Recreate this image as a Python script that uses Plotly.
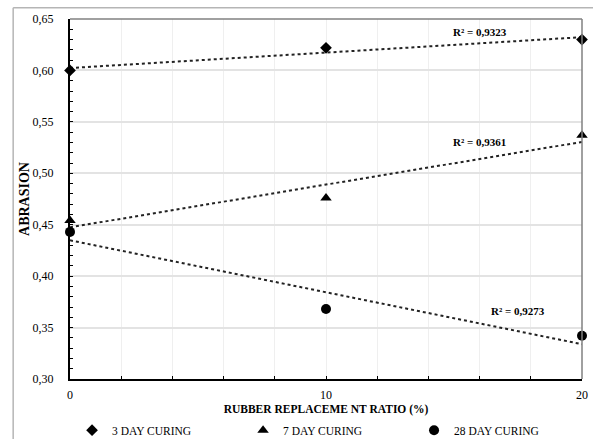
import numpy as np
import plotly.graph_objects as go

# ---- data ----
ratio = [0, 10, 20]
day3 = [0.600, 0.622, 0.630]
day7 = [0.454, 0.476, 0.537]
day28 = [0.443, 0.368, 0.342]
series_names = ["3 DAY CURING", "7 DAY CURING", "28 DAY CURING"]
series_symbols = ["diamond", "triangle-up", "circle"]
r2_labels = ["R² = 0,9323", "R² = 0,9361", "R² = 0,9273"]
r2_pos_x = [16.0, 16.0, 17.5]
r2_pos_y = [0.637, 0.530, 0.366]
y_ticks = [0.30, 0.35, 0.40, 0.45, 0.50, 0.55, 0.60, 0.65]
x_ticks = [0, 10, 20]

FONT = "Liberation Serif"
fig = go.Figure()

all_series = [day3, day7, day28]
sizes = [9, 10, 10]
for vals, name, sym, sz in zip(all_series, series_names, series_symbols, sizes):
    coef = np.polyfit(ratio, vals, 1)
    xs = np.array([ratio[0], ratio[-1]], dtype=float)
    fig.add_trace(go.Scatter(
        x=xs, y=np.polyval(coef, xs), mode="lines",
        line=dict(color="#222222", width=2, dash="dot"),
        showlegend=False, hoverinfo="skip"))
    fig.add_trace(go.Scatter(
        x=ratio, y=vals, mode="markers", name=name,
        marker=dict(symbol=sym, size=sz, color="black"),
        cliponaxis=False))

for txt, xv, yv in zip(r2_labels, r2_pos_x, r2_pos_y):
    fig.add_annotation(x=xv, y=yv, text="<b>" + txt + "</b>", showarrow=False,
                       font=dict(family=FONT, size=11, color="black"))

# plot frame (top/right gray)
fig.add_shape(type="line", xref="paper", yref="paper", x0=0, x1=1, y0=1, y1=1,
              line=dict(color="#808080", width=1.5))
fig.add_shape(type="line", xref="paper", yref="paper", x0=1, x1=1, y0=0, y1=1,
              line=dict(color="#808080", width=1.5))
# outer chart frame
fig.add_shape(type="line", xref="paper", yref="paper", x0=-0.111, x1=1.1, y0=1.031, y1=1.031,
              line=dict(color="#b5b5b5", width=1.5))
fig.add_shape(type="line", xref="paper", yref="paper", x0=-0.111, x1=-0.111, y0=-0.2, y1=1.031,
              line=dict(color="#b5b5b5", width=1.5))

fig.update_layout(
    width=593, height=439,
    margin=dict(l=70, r=11, t=19, b=60, autoexpand=False),
    paper_bgcolor="white", plot_bgcolor="white",
    separators=",.",
    font=dict(family=FONT, size=12, color="black"),
    showlegend=True,
    legend=dict(orientation="h", x=0.004, y=0.02, xref="paper", yref="container",
                xanchor="left", yanchor="middle",
                entrywidth=126, entrywidthmode="pixels",
                font=dict(family=FONT, size=11.5), itemwidth=30,
                bgcolor="rgba(0,0,0,0)"),
    xaxis=dict(range=[0, 20], tickvals=x_ticks, ticktext=[str(v) for v in x_ticks],
               showline=True, linecolor="black", linewidth=2,
               ticks="inside", ticklen=3, tickcolor="black",
               showgrid=True, gridcolor="#efefef", gridwidth=1,
               minor=dict(dtick=2, showgrid=True, gridcolor="#efefef", ticks="inside",
                          ticklen=3, tickcolor="black"),
               zeroline=False, ticklabelstandoff=4,
               title=dict(text="<b>RUBBER REPLACEME NT RATIO (%)</b>",
                          font=dict(family=FONT, size=11.5), standoff=26)),
    yaxis=dict(range=[0.30, 0.65], tickvals=y_ticks, tickformat=".2f",
               showline=True, linecolor="black", linewidth=2,
               ticks="inside", ticklen=3, tickcolor="black",
               showgrid=True, gridcolor="#e3e3e3", gridwidth=2,
               minor=dict(dtick=0.01, ticks="inside", ticklen=3, tickcolor="black", showgrid=False),
               zeroline=False, ticklabelstandoff=12,
               title=dict(text="<b>ABRASION</b>", font=dict(family=FONT, size=14), standoff=0)),
)

fig.write_html("out.html")
